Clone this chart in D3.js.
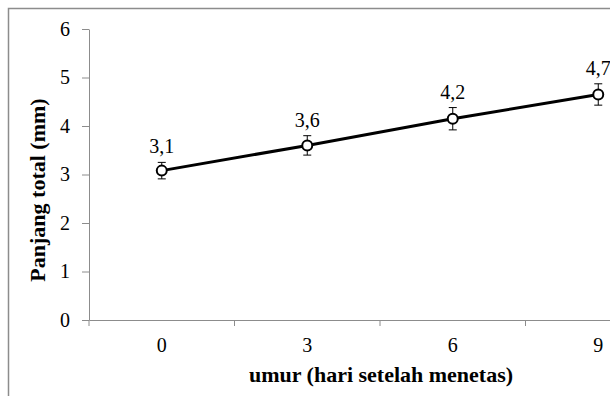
<!DOCTYPE html>
<html>
<head>
<meta charset="utf-8">
<script src="https://cdn.jsdelivr.net/npm/d3@7"></script>
<style>
  body { margin: 0; background: #fff; }
  svg text { font-family: 'Times New Roman', 'Liberation Serif', 'DejaVu Serif', serif; fill: #000; }
  .axis path, .axis line { stroke: #8c8c8c; }
  .axis text { font-size: 20px; }
</style>
</head>
<body>
<div id="chart"></div>
<script>
// umur (hari setelah menetas) vs panjang total
var days = ['0', '3', '6', '9']
var lengths = [3.08, 3.6, 4.15, 4.65]
var errs = [0.17, 0.2, 0.23, 0.22]
var labels = ['3,1', '3,6', '4,2', '4,7']
var yTicks = [0, 1, 2, 3, 4, 5, 6]

var W = 610, H = 396
var m = {top: 29, left: 89, bottom: 76}

var svg = d3.select('#chart').append('svg')
  .attr('width', W).attr('height', H)

// outer chart frame (cropped on right & bottom)
svg.append('rect')
  .attr('x', 8.5).attr('y', 8.5)
  .attr('width', 700).attr('height', 500)
  .attr('fill', 'none').attr('stroke', '#8c8c8c').attr('stroke-width', 1.5)

var x = d3.scaleBand().domain(days).range([m.left, m.left + 4*145.5])
var y = d3.scaleLinear().domain([0, 6]).range([H - m.bottom, m.top])

// y axis
svg.append('g').attr('class', 'axis')
  .attr('transform', `translate(${m.left},0)`)
  .call(d3.axisLeft(y).tickValues(yTicks).tickFormat(d3.format('d'))
    .tickSize(7).tickPadding(12).tickSizeOuter(0))
  .call(g => g.attr('font-family', null).attr('font-size', null))

// x axis: labels at category centres, ticks on band edges
var xg = svg.append('g').attr('class', 'axis')
  .attr('transform', `translate(0,${y(0)})`)
  .call(d3.axisBottom(x).tickSize(0).tickPadding(18).tickSizeOuter(0))
  .call(g => g.attr('font-family', null).attr('font-size', null))

xg.selectAll('line.edge')
  .data(days.map(d => x(d)))
  .join('line').attr('class', 'edge')
  .attr('x1', d => d).attr('x2', d => d)
  .attr('y1', 0).attr('y2', 6)

// axis titles
svg.append('text')
  .attr('x', 381).attr('y', 382)
  .attr('text-anchor', 'middle')
  .style('font-size', '22px').style('font-weight', 'bold')
  .text('umur (hari setelah menetas)')

svg.append('text')
  .attr('transform', 'translate(45,190) rotate(-90)')
  .attr('text-anchor', 'middle')
  .style('font-size', '22px').style('font-weight', 'bold')
  .text('Panjang total (mm)')

var pts = days.map((d, i) => ({d, v: lengths[i], e: errs[i], label: labels[i]}))
var cx = d => x(d.d) + x.bandwidth()/2

// line
svg.append('path')
  .datum(pts)
  .attr('d', d3.line().x(cx).y(d => y(d.v)))
  .attr('fill', 'none').attr('stroke', '#000').attr('stroke-width', 3)

// error bars
var eb = svg.append('g').attr('stroke', '#000').attr('stroke-width', 1)
eb.selectAll('line.v').data(pts).join('line').attr('class', 'v')
  .attr('x1', cx).attr('x2', cx)
  .attr('y1', d => y(d.v + d.e)).attr('y2', d => y(d.v - d.e))
eb.selectAll('line.t').data(pts).join('line').attr('class', 't')
  .attr('x1', d => cx(d) - 4).attr('x2', d => cx(d) + 4)
  .attr('y1', d => y(d.v + d.e)).attr('y2', d => y(d.v + d.e))
eb.selectAll('line.b').data(pts).join('line').attr('class', 'b')
  .attr('x1', d => cx(d) - 4).attr('x2', d => cx(d) + 4)
  .attr('y1', d => y(d.v - d.e)).attr('y2', d => y(d.v - d.e))

// markers
svg.selectAll('circle.pt').data(pts).join('circle').attr('class', 'pt')
  .attr('cx', cx).attr('cy', d => y(d.v)).attr('r', 5)
  .attr('fill', '#fff').attr('stroke', '#000').attr('stroke-width', 2)

// value labels
svg.selectAll('text.val').data(pts).join('text').attr('class', 'val')
  .attr('x', cx).attr('y', d => y(d.v + d.e) - 9)
  .attr('text-anchor', 'middle')
  .style('font-size', '20px')
  .text(d => d.label)
</script>
</body>
</html>
